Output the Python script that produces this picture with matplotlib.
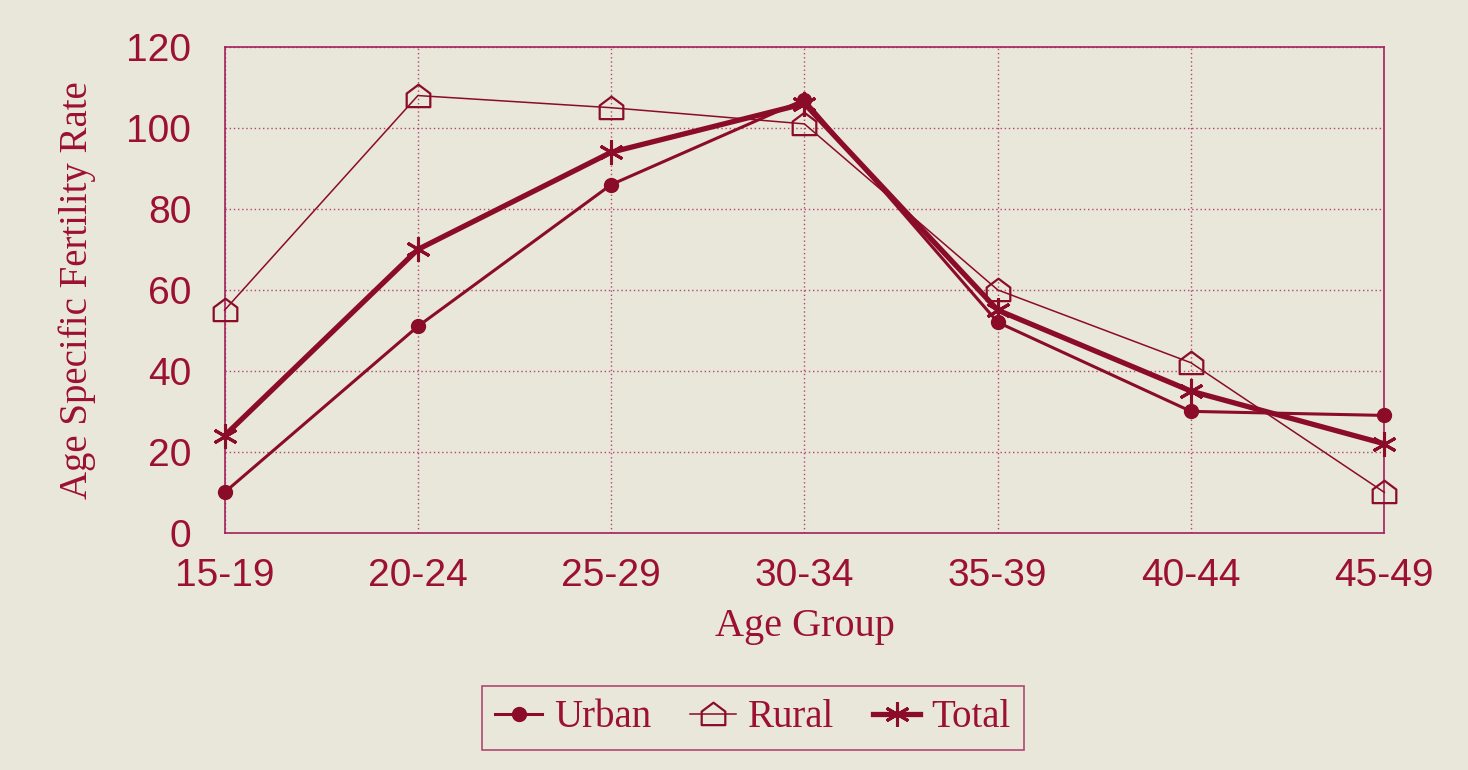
"""
Age specific fertility rate by age group: Urban / Rural / Total.
Recreated from a scanned page figure.
"""

import matplotlib

matplotlib.use("Agg")
import matplotlib.pyplot as plt
from matplotlib.path import Path

# ============================ DATA ============================
AGE_GROUPS = ["15-19", "20-24", "25-29", "30-34", "35-39", "40-44", "45-49"]
URBAN = [10, 51, 86, 107, 52, 30, 29]
RURAL = [55, 108, 105, 101, 60, 42, 10]
TOTAL = [24, 70, 94, 106, 55, 35, 22]
Y_TICKS = [0, 20, 40, 60, 80, 100, 120]
# ==============================================================

PAPER = "#e9e6da"
INK = "#8a0c26"  # lines / markers
TEXT = "#9c1030"  # labels
FRAME = "#a3205a"  # frame + grid

# house-shaped marker (square base with a roof)
HOUSE = Path(
    [(-1, -0.9), (1, -0.9), (1, 0.25), (0, 1.0), (-1, 0.25), (-1, -0.9)],
    [Path.MOVETO, Path.LINETO, Path.LINETO, Path.LINETO, Path.LINETO, Path.CLOSEPOLY],
)

serif = ["Liberation Serif", "DejaVu Serif"]
sans = ["Liberation Sans", "DejaVu Sans"]


def main() -> None:
    fig = plt.figure(figsize=(14.68, 7.70), dpi=100, facecolor=PAPER)
    ax = fig.add_axes([0.153, 0.308, 0.79, 0.631], facecolor=PAPER)

    x = list(range(len(AGE_GROUPS)))

    ax.plot(x, URBAN, color=INK, lw=2.2, marker="o", ms=10,
            mfc=INK, mec=INK, label="Urban", zorder=3, clip_on=False)
    ax.plot(x, RURAL, color=INK, lw=1.1, marker=HOUSE, ms=17,
            mfc="none", mec=INK, mew=1.6, label="Rural", zorder=3, clip_on=False)
    ax.plot(x, TOTAL, color=INK, lw=3.8, marker=(6, 2, 0), ms=18,
            mec=INK, mew=2.2, label="Total", zorder=4, clip_on=False)

    ax.set_xlim(0, len(AGE_GROUPS) - 1)
    ax.set_ylim(0, 120)
    ax.set_xticks(x)
    ax.set_xticklabels(AGE_GROUPS)
    ax.set_yticks(Y_TICKS)

    for lab in ax.get_xticklabels() + ax.get_yticklabels():
        lab.set_family(sans)
        lab.set_fontsize(28)
        lab.set_color(TEXT)
    ax.tick_params(axis="both", length=0)
    ax.tick_params(axis="x", pad=18)
    ax.tick_params(axis="y", pad=24)

    ax.grid(True, color=FRAME, ls=(0, (1, 2)), lw=1.0, alpha=0.8)
    ax.set_axisbelow(True)
    for sp in ax.spines.values():
        sp.set_color(FRAME)
        sp.set_linewidth(1.2)

    ax.set_xlabel("Age Group", family=serif, fontsize=29, color=TEXT, labelpad=10)
    ax.set_ylabel("Age Specific Fertility Rate", family=serif, fontsize=28,
                  color=TEXT, labelpad=22)

    leg = fig.legend(
        loc="center",
        bbox_to_anchor=(0.513, 0.068),
        ncol=3,
        frameon=True,
        fancybox=False,
        handlelength=1.2,
        handletextpad=0.3,
        columnspacing=1.0,
        borderpad=0.35,
        prop={"family": serif, "size": 28},
    )
    leg.get_frame().set_edgecolor(FRAME)
    leg.get_frame().set_facecolor(PAPER)
    leg.get_frame().set_linewidth(1.2)
    for t in leg.get_texts():
        t.set_color(TEXT)

    fig.savefig("out.png", dpi=100, facecolor=PAPER)


if __name__ == "__main__":
    main()
